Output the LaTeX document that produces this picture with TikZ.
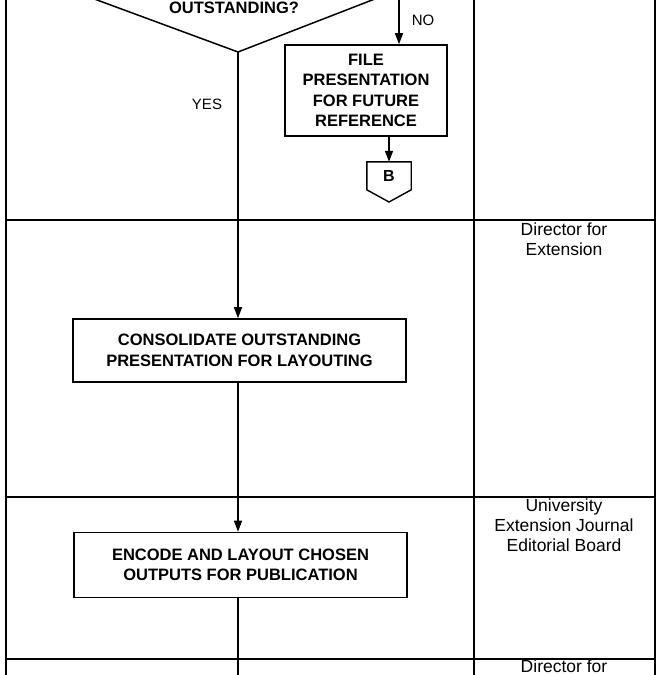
\documentclass[tikz,border=0pt]{standalone}
\usepackage{fontspec}
\setmainfont{Liberation Sans}
\usetikzlibrary{arrows.meta,calc}
\begin{document}
\begin{tikzpicture}[x=1pt,y=-1pt,
  ln/.style={line width=1.5pt,black},
  arr/.style={ln,-{Triangle[length=11pt,width=8pt]}},
  procbox/.style={draw,line width=1.6pt,align=center,inner sep=0pt,
    font=\fontsize{16.5}{20.5}\selectfont\bfseries},
  lbl/.style={font=\fontsize{15}{18}\selectfont,inner sep=0pt},
  role/.style={align=center,inner sep=0pt,font=\fontsize{17.5}{20}\selectfont}]
\useasboundingbox (0,0) rectangle (665,675);
% swimlane frame
\draw[line width=1.2pt] (6,-5) -- (6,680);
\draw[line width=1.2pt] (474,-5) -- (474,680);
\draw[line width=1.2pt] (655,-5) -- (655,680);
\draw[line width=1.2pt] (6,220) -- (655,220);
\draw[line width=1.2pt] (6,497) -- (655,497);
\draw[line width=1.2pt] (6,659) -- (655,659);
% decision (top part outside the picture)
\coordinate (dec) at (238,52);
\draw[ln] (70,-10) -- (dec) -- (398,-10);
\node[font=\fontsize{16.5}{20}\selectfont\bfseries,inner sep=0pt] (dectext) at (234,8) {OUTSTANDING?};
% NO branch
\coordinate (noTop) at (399,-10);
\node[procbox,minimum width=162pt,minimum height=91pt] (file) at (366,90.5)
  {FILE\\PRESENTATION\\FOR FUTURE\\REFERENCE};
\draw[arr] (noTop) -- (noTop |- file.north);
\node[lbl] (no) at (423,20) {NO};
% off-page connector B
\node[minimum width=44pt,minimum height=28pt,inner sep=0pt,
  font=\fontsize{16}{18}\selectfont\bfseries] (Bn) at (389,176) {B};
\draw[line width=1.4pt] (Bn.north west) -- (Bn.north east) -- ++(0,28) -- (389,202)
  -- ($(Bn.north west)+(0,28)$) -- cycle;
\draw[arr] (file.south -| Bn) -- (Bn.north);
% YES branch
\node[lbl] (yes) at (207,104) {YES};
\node[procbox,minimum width=333pt,minimum height=63pt] (cons) at (239.5,350.5)
  {CONSOLIDATE OUTSTANDING\\PRESENTATION FOR LAYOUTING};
\draw[arr] (dec) -- (dec |- cons.north);
\node[procbox,minimum width=333pt,minimum height=65pt] (enc) at (240.5,565)
  {ENCODE AND LAYOUT CHOSEN\\OUTPUTS FOR PUBLICATION};
\draw[arr] (dec |- cons.south) -- (dec |- enc.north);
\coordinate (bottomEnd) at (238,685);
\draw[ln] (dec |- enc.south) -- (bottomEnd);
% roles
\node[role] (r1) at (564,239) {Director for\\Extension};
\node[role] (r2) at (564,525) {University\\Extension Journal\\Editorial Board};
\node[role] (r3) at (564,666) {Director for};
\end{tikzpicture}
\end{document}
